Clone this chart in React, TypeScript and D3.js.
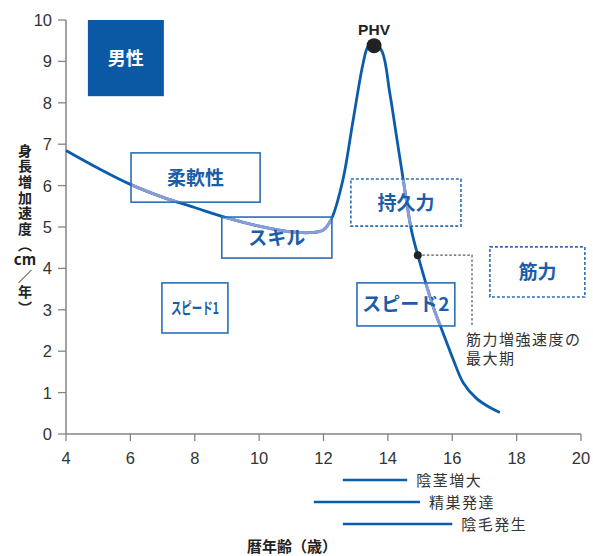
import React from "react";
import * as d3 from "d3";

// ---- data ----
const ages = [4, 5, 6, 7, 8, 9, 10, 11, 11.7, 12, 12.25, 12.6, 12.92, 13.23, 13.38, 13.55, 13.8, 14.06, 14.27, 14.48, 14.73, 14.93, 15.41, 15.72, 16.03, 16.34, 16.75, 17.17, 17.48];
const velocity = [6.85, 6.42, 6.03, 5.72, 5.47, 5.22, 5.02, 4.88, 4.87, 4.93, 5.2, 6.13, 7.58, 8.95, 9.35, 9.42, 9.27, 8.23, 7.18, 6.13, 4.93, 4.32, 3.07, 2.43, 1.8, 1.24, 0.86, 0.64, 0.52];
const xTicks = [4, 6, 8, 10, 12, 14, 16, 18, 20];
const yTicks = [0, 1, 2, 3, 4, 5, 6, 7, 8, 9, 10];
const phv = { age: 13.57, v: 9.38, label: "PHV" };
const strengthPeak = { age: 14.93, v: 4.32, label1: "筋力増強速度の", label2: "最大期" };
const boxLabels = ["柔軟性", "スキル", "持久力", "筋力", "スピード2", "スピード1"];
const boxX0 = [6.02, 8.84, 12.85, 17.17, 13.04, 6.98];
const boxX1 = [10.03, 12.26, 16.27, 20.12, 16.08, 9.03];
const boxY0 = [6.79, 5.24, 6.16, 4.52, 3.65, 3.65];
const boxY1 = [5.6, 4.25, 5.02, 3.31, 2.61, 2.44];
const boxDashed = [false, false, true, true, false, false];
const devLabels = ["陰茎増大", "精巣発達", "陰毛発生"];
const devStart = [12.6, 11.7, 12.6];
const devEnd = [14.6, 15.0, 16.0];
const sexLabel = "男性";
const xTitle = "暦年齢（歳）";
const yTitleChars = ["身", "長", "増", "加", "速", "度", "︵", "cm", "／", "年", "︶"];

const W = 593, H = 556;
const BLUE = "#0a5dab";
const BOXBLUE = "#2b6eb6";
const TXTBLUE = "#1a5ea9";
const JP = "'Noto Sans CJK JP', 'Noto Sans', sans-serif";
const NUM = "'Liberation Sans', Arial, sans-serif";

export default function App() {
  const x = d3.scaleLinear().domain([4, 20]).range([66, 581]);
  const y = d3.scaleLinear().domain([0, 10]).range([434, 20]);
  const pts: [number, number][] = ages.map((a, i) => [a, velocity[i]]);
  const line = d3
    .line<[number, number]>()
    .x((d) => x(d[0]))
    .y((d) => y(d[1]))
    .curve(d3.curveCatmullRom.alpha(0.5));
  const pathD = line(pts) || "";
  const overlayIdx = [0, 1, 2, 4];
  const devY = [480, 502, 524];

  return (
    <svg width={W} height={H} style={{ position: "absolute", left: 0, top: 0, background: "#fff" }}>
      <defs>
        <clipPath id="boxclip">
          {overlayIdx.map((i) => (
            <rect key={i} x={x(boxX0[i])} y={y(boxY0[i])} width={x(boxX1[i]) - x(boxX0[i])} height={y(boxY1[i]) - y(boxY0[i])} />
          ))}
        </clipPath>
      </defs>

      {/* axes */}
      <line x1={x(4)} x2={x(20)} y1={y(0)} y2={y(0)} stroke="#858585" strokeWidth={1.5} />
      <line x1={x(4)} x2={x(4)} y1={y(0)} y2={y(10)} stroke="#858585" strokeWidth={1.5} />
      {xTicks.map((t) => (
        <g key={"xt" + t}>
          <line x1={x(t)} x2={x(t)} y1={y(0)} y2={y(0) + 7} stroke="#858585" strokeWidth={1.3} />
          <text x={x(t)} y={464} textAnchor="middle" fontFamily={NUM} fontSize={16.5} fill="#333">{t}</text>
        </g>
      ))}
      {yTicks.map((t) => (
        <g key={"yt" + t}>
          <line x1={x(4) - 8} x2={x(4)} y1={y(t)} y2={y(t)} stroke="#858585" strokeWidth={1.3} />
          <text x={52} y={y(t) + 6} textAnchor="end" fontFamily={NUM} fontSize={16.5} fill="#333">{t}</text>
        </g>
      ))}

      {/* y title */}
      {yTitleChars.map((c, i) => (
        <text key={"yc" + i} x={25} y={150 + i * 15.7 + 5.5} textAnchor="middle" fontFamily={JP} fontWeight="bold" fontSize={c === "cm" ? 15 : 14} fill="#222">{c}</text>
      ))}
      <text x={292} y={552} textAnchor="middle" fontFamily={JP} fontWeight="bold" fontSize={15} fill="#222">{xTitle}</text>

      {/* sex box */}
      <rect x={x(4.68)} y={y(10)} width={x(7.04) - x(4.68)} height={y(8.16) - y(10)} fill="#0b58a4" />
      <text x={(x(4.68) + x(7.04)) / 2} y={(y(10) + y(8.16)) / 2 + 6.5} textAnchor="middle" fontFamily={JP} fontWeight="bold" fontSize={18} fill="#fff">{sexLabel}</text>

      {/* curve */}
      <path d={pathD} fill="none" stroke={BLUE} strokeWidth={2.8} />
      <path d={pathD} fill="none" stroke="#8a9bd6" strokeWidth={3} clipPath="url(#boxclip)" />

      {/* boxes */}
      {boxLabels.map((lab, i) => {
        const bx = x(boxX0[i]), by = y(boxY0[i]);
        const bw = x(boxX1[i]) - bx, bh = y(boxY1[i]) - by;
        const cx = bx + bw / 2, cy = by + bh / 2;
        const small = i === 5;
        return (
          <g key={"b" + i}>
            <rect x={bx} y={by} width={bw} height={bh} fill="none" stroke={BOXBLUE} strokeWidth={1.6} strokeDasharray={boxDashed[i] ? "3,2" : undefined} />
            <text x={cx} y={cy + (small ? 6 : 7)} textAnchor="middle" fontFamily={JP} fontWeight="bold" fontSize={small ? 16 : 19} fill={TXTBLUE}
              {...(small ? { textLength: 48, lengthAdjust: "spacingAndGlyphs" } : {})}>{lab}</text>
          </g>
        );
      })}

      {/* PHV */}
      <circle cx={x(phv.age)} cy={y(phv.v)} r={7.5} fill="#222" />
      <text x={x(phv.age)} y={35} textAnchor="middle" fontFamily={NUM} fontWeight="bold" fontSize={15.5} fill="#222">{phv.label}</text>

      {/* strength peak */}
      <polyline points={`${x(strengthPeak.age)},${y(strengthPeak.v)} ${472},${y(strengthPeak.v)} ${472},${325}`} fill="none" stroke="#555" strokeWidth={1.2} strokeDasharray="2.5,2" />
      <circle cx={x(strengthPeak.age)} cy={y(strengthPeak.v)} r={4} fill="#222" />
      <text x={466} y={345} fontFamily={JP} fontSize={15} letterSpacing={1.5} fill="#333">{strengthPeak.label1}</text>
      <text x={466} y={364} fontFamily={JP} fontSize={15} letterSpacing={1.5} fill="#333">{strengthPeak.label2}</text>

      {/* development lines */}
      {devLabels.map((lab, i) => (
        <g key={"d" + i}>
          <line x1={x(devStart[i])} x2={x(devEnd[i])} y1={devY[i]} y2={devY[i]} stroke={BLUE} strokeWidth={2.6} />
          <text x={x(devEnd[i]) + 9} y={devY[i] + 5.5} fontFamily={JP} fontSize={15} letterSpacing={1.5} fill="#333">{lab}</text>
        </g>
      ))}
    </svg>
  );
}
